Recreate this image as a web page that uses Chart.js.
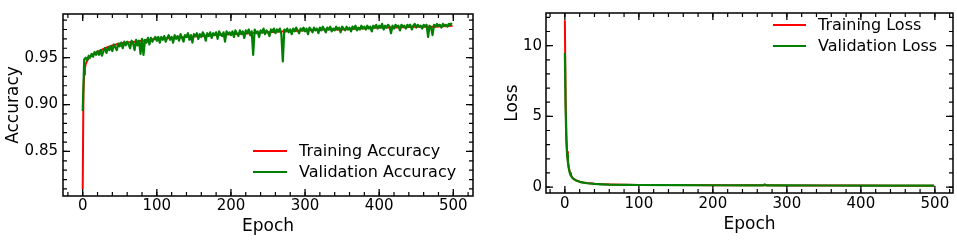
<!DOCTYPE html>
<html><head><meta charset="utf-8">
<script src="https://cdn.jsdelivr.net/npm/chart.js@4.4.0/dist/chart.umd.min.js"></script>
<style>
html,body{margin:0;padding:0;background:#fff;width:957px;height:240px;overflow:hidden}
#l{position:absolute;left:0;top:0;width:480px;height:240px}
#r{position:absolute;left:480px;top:0;width:477px;height:240px}
</style></head><body>
<div id="l"><canvas id="cl"></canvas></div>
<div id="r"><canvas id="cr"></canvas></div>
<script>
// ---- data ----
const trainAccEpochs = [0,1,2,3,4,5,6,8,10,15,20,25,30,40,50,60,70,80,90,100,120,140,160,180,200,225,250,275,300,325,350,375,400,425,450,475,499];
const trainAcc = [0.810,0.915,0.932,0.939,0.943,0.945,0.947,0.949,0.951,0.954,0.956,0.958,0.960,0.963,0.965,0.966,0.967,0.968,0.969,0.970,0.971,0.972,0.973,0.974,0.975,0.976,0.977,0.978,0.979,0.980,0.980,0.981,0.982,0.982,0.983,0.983,0.984];
// validation accuracy, every 2nd epoch (0,2,4,...,498)
const valAcc = [
0.893,0.948,0.950,0.947,0.952,0.950,0.954,0.951,0.956,0.953,
0.957,0.953,0.958,0.952,0.957,0.960,0.955,0.961,0.958,0.962,
0.957,0.964,0.961,0.958,0.965,0.962,0.966,0.960,0.967,0.963,
0.967,0.964,0.960,0.968,0.965,0.958,0.969,0.963,0.968,0.954,
0.970,0.953,0.969,0.966,0.971,0.964,0.971,0.967,0.970,0.972,
0.968,0.972,0.966,0.972,0.969,0.973,0.967,0.971,0.974,0.969,
0.972,0.966,0.974,0.970,0.973,0.968,0.975,0.971,0.967,0.974,
0.972,0.976,0.969,0.974,0.966,0.975,0.973,0.976,0.970,0.975,
0.972,0.977,0.974,0.968,0.976,0.973,0.977,0.971,0.976,0.974,
0.977,0.970,0.978,0.975,0.973,0.977,0.967,0.978,0.975,0.977,
0.974,0.978,0.972,0.979,0.976,0.973,0.979,0.975,0.978,0.971,
0.979,0.976,0.980,0.974,0.978,0.953,0.980,0.976,0.978,0.972,
0.979,0.977,0.981,0.975,0.979,0.977,0.973,0.980,0.978,0.981,
0.976,0.980,0.978,0.981,0.975,0.946,0.980,0.978,0.981,0.977,
0.980,0.975,0.981,0.978,0.982,0.979,0.976,0.981,0.979,0.982,
0.978,0.981,0.975,0.982,0.980,0.977,0.982,0.979,0.981,0.976,
0.982,0.979,0.983,0.980,0.977,0.982,0.980,0.983,0.978,0.981,
0.979,0.983,0.980,0.982,0.977,0.983,0.981,0.979,0.983,0.980,
0.982,0.978,0.983,0.981,0.984,0.979,0.982,0.980,0.984,0.981,
0.983,0.980,0.984,0.981,0.983,0.978,0.984,0.982,0.985,0.981,
0.984,0.982,0.986,0.980,0.984,0.982,0.985,0.983,0.976,0.984,
0.981,0.985,0.983,0.984,0.979,0.985,0.983,0.984,0.981,0.985,
0.983,0.985,0.980,0.984,0.986,0.982,0.985,0.983,0.984,0.981,
0.985,0.983,0.985,0.972,0.984,0.982,0.974,0.985,0.983,0.986,
0.984,0.985,0.982,0.986,0.984,0.985,0.983,0.986,0.985,0.987];
const valAccEpochs = valAcc.map((_, i) => i * 2);

const lossEpochs = [0,1,2,3,4,5,6,7,8,10,12,15,20,25,30,40,50,60,80,100,150,200,250,268,270,272,300,350,400,450,499];
const trainLoss = [11.8,6.2,3.6,2.5,1.9,1.5,1.2,1.0,0.85,0.68,0.58,0.48,0.38,0.32,0.28,0.23,0.20,0.18,0.16,0.15,0.14,0.13,0.125,0.12,0.12,0.12,0.115,0.11,0.105,0.10,0.10];
const valLoss   = [9.5,5.6,3.3,2.3,1.8,1.4,1.15,0.95,0.82,0.66,0.56,0.47,0.37,0.31,0.27,0.22,0.19,0.17,0.155,0.145,0.135,0.128,0.122,0.12,0.19,0.12,0.115,0.11,0.105,0.10,0.098];

const xMajorStep = 100, xMinorStep = 20;

// ---- helpers ----
Chart.defaults.font.family = "'DejaVu Sans', sans-serif";
Chart.defaults.color = '#000';
const pts = (xs, ys) => xs.map((x, i) => ({x, y: ys[i]}));

const frameTicks = {
  id: 'frameTicks',
  afterDatasetsDraw(chart, args, o) {
    const {ctx, chartArea: a, scales: {x, y}} = chart;
    ctx.save();
    ctx.strokeStyle = '#000';
    ctx.lineCap = 'butt';
    const list = (min, max, step) => {
      const out = [];
      for (let v = Math.ceil(min / step - 1e-9) * step; v <= max + 1e-9; v += step) out.push(+v.toFixed(6));
      return out;
    };
    const drawSet = (scale, vals, len, w, horiz) => {
      ctx.lineWidth = w;
      ctx.beginPath();
      vals.forEach(v => {
        const p = scale.getPixelForValue(v);
        if (horiz) {
          ctx.moveTo(p, a.bottom); ctx.lineTo(p, a.bottom - len);
          ctx.moveTo(p, a.top); ctx.lineTo(p, a.top + len);
        } else {
          ctx.moveTo(a.left, p); ctx.lineTo(a.left + len, p);
          ctx.moveTo(a.right, p); ctx.lineTo(a.right - len, p);
        }
      });
      ctx.stroke();
    };
    drawSet(x, list(x.min, x.max, o.xMinor), 4, 1.2, true);
    drawSet(x, list(x.min, x.max, o.xMajor), 7, 1.3, true);
    drawSet(y, list(y.min, y.max, o.yMinor), 4, 1.2, false);
    drawSet(y, list(y.min, y.max, o.yMajor), 7, 1.3, false);
    ctx.lineWidth = 1.5;
    ctx.strokeRect(a.left, a.top, a.right - a.left, a.bottom - a.top);
    // legend
    const L = o.legend;
    ctx.font = '16px "DejaVu Sans"';
    ctx.textBaseline = 'alphabetic';
    ctx.textAlign = 'left';
    chart.data.datasets.slice().sort((p, q) => p.legendIndex - q.legendIndex).forEach((ds, i) => {
      const yy = L.y + i * L.dy;
      ctx.strokeStyle = ds.borderColor;
      ctx.lineWidth = 2;
      ctx.beginPath(); ctx.moveTo(L.x1, yy); ctx.lineTo(L.x2, yy); ctx.stroke();
      ctx.fillStyle = '#000';
      ctx.fillText(ds.label, L.tx, yy + 5);
    });
    ctx.restore();
  }
};

function makeChart(id, cfg) {
  return new Chart(document.getElementById(id), {
    type: 'line',
    data: {datasets: [
      {label: cfg.valLabel, legendIndex: 1, data: cfg.val, borderColor: '#008000', borderWidth: 2.2, pointRadius: 0, tension: 0, borderJoinStyle: 'round', order: 0},
      {label: cfg.trainLabel, legendIndex: 0, data: cfg.train, borderColor: '#ff0000', borderWidth: 2, pointRadius: 0, tension: 0, borderJoinStyle: 'round', order: 1}
    ]},
    options: {
      responsive: true, maintainAspectRatio: false, animation: false, devicePixelRatio: 1,
      layout: {padding: {top: 4, right: cfg.padRight, left: 0, bottom: 0}},
      plugins: {legend: {display: false}, tooltip: {enabled: false},
        frameTicks: {xMajor: xMajorStep, xMinor: xMinorStep, yMajor: cfg.yMajor, yMinor: cfg.yMinor, legend: cfg.legend}},
      scales: {
        x: {type: 'linear', min: cfg.xMin, max: cfg.xMax,
          grid: {display: false, drawTicks: false, tickLength: 0}, border: {display: false},
          ticks: {stepSize: xMajorStep, includeBounds: false, padding: cfg.xTickPad, font: {size: 15}, color: '#000', maxRotation: 0, autoSkip: false},
          title: {display: true, text: 'Epoch', font: {size: 17}, color: '#000', padding: {top: 0, bottom: cfg.xTitlePad}},
          afterFit(s) { s.height = cfg.xAxisH; }},
        y: {type: 'linear', min: cfg.yMin, max: cfg.yMax,
          grid: {display: false, drawTicks: false, tickLength: 0}, border: {display: false},
          ticks: {stepSize: cfg.yMajor, includeBounds: false, padding: cfg.yTickPad, font: {size: 15}, color: '#000', callback: cfg.fmt},
          title: {display: true, text: cfg.yTitle, font: {size: 17}, color: '#000', padding: {top: cfg.yTitlePad, bottom: 0}},
          afterFit(s) { s.width = cfg.yAxisW; }}
      }
    },
    plugins: [frameTicks]
  });
}

makeChart('cl', {
  valLabel: 'Validation Accuracy', trainLabel: 'Training Accuracy',
  val: pts(valAccEpochs, valAcc), train: pts(trainAccEpochs, trainAcc),
  padRight: 7, xMin: -26.6, xMax: 526.6, yMin: 0.8025, yMax: 0.9965,
  yMajor: 0.05, yMinor: 0.01, fmt: v => v.toFixed(2), yTitle: 'Accuracy',
  xTickPad: 1, xTitlePad: 3, xAxisH: 44, yTickPad: 5, yTitlePad: 3, yAxisW: 63,
  legend: {x1: 253, x2: 287, tx: 299, y: 151, dy: 21}
});
makeChart('cr', {
  valLabel: 'Validation Loss', trainLabel: 'Training Loss',
  val: pts(lossEpochs, valLoss), train: pts(lossEpochs, trainLoss),
  padRight: 4, xMin: -25.5, xMax: 524.5, yMin: -0.42, yMax: 12.31,
  yMajor: 5, yMinor: 1, fmt: v => String(v), yTitle: 'Loss',
  xTickPad: 2, xTitlePad: 5, xAxisH: 47, yTickPad: 4, yTitlePad: 22, yAxisW: 66,
  legend: {x1: 293, x2: 326, tx: 338, y: 25, dy: 21}
});
</script>
</body></html>
